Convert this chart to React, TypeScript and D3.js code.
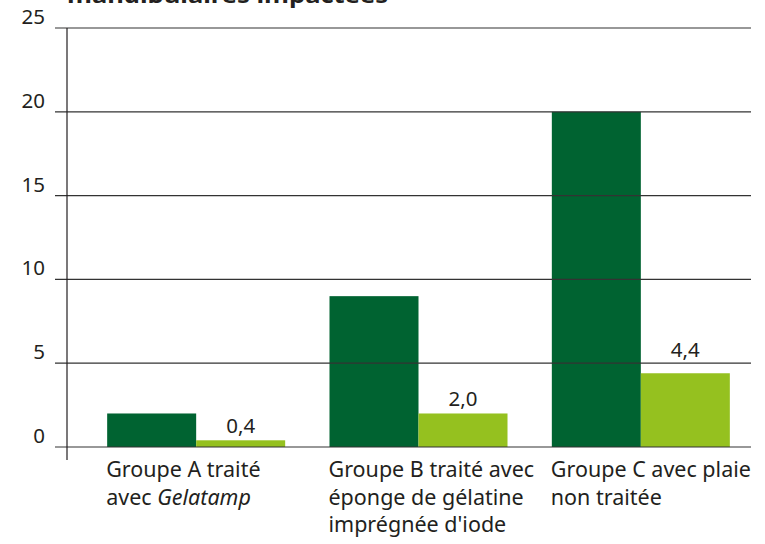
import { useEffect, useRef } from 'react'
import * as d3 from 'd3'

const groups = ['A', 'B', 'C']
const groupLabels = [
  ['Groupe A traité', 'avec |Gelatamp'],
  ['Groupe B traité avec', 'éponge de gélatine', "imprégnée d'iode"],
  ['Groupe C avec plaie', 'non traitée'],
]
const seriesKeys = ['dark', 'light']
const darkValues = [2.0, 9.0, 20.0]
const lightValues = [0.4, 2.0, 4.4]
const lightLabels = ['0,4', '2,0', '4,4']
const yTicks = [0, 5, 10, 15, 20, 25]
const titleText = 'mandibulaires impactées'

export default function App() {
  const svgRef = useRef<SVGSVGElement>(null)

  useEffect(() => {
    if (!svgRef.current) return
    const svg = d3.select(svgRef.current)
    svg.selectAll('*').remove()

    const font = '"Noto Sans", sans-serif'
    const textColor = '#231f20'
    const colors: Record<string, string> = { dark: '#006331', light: '#95c11f' }

    const axisX = 67
    const gridRight = 751

    const y = d3.scaleLinear().domain([0, 25]).range([447, 28])
    const x0 = d3.scaleBand().domain(groups).range([85, 752]).padding(0)
    const x1 = d3.scaleBand().domain(seriesKeys).range([0, x0.bandwidth()]).paddingInner(0).paddingOuter(0.249)

    // title (cut off at top)
    svg.append('text')
      .attr('x', 67)
      .attr('y', 2.5)
      .attr('font-family', font)
      .attr('font-weight', 'bold')
      .attr('font-size', 22)
      .attr('fill', textColor)
      .attr('textLength', 321)
      .attr('lengthAdjust', 'spacingAndGlyphs')
      .text(titleText)

    // bars
    const g = svg.append('g')
    groups.forEach((grp, i) => {
      const vals: Record<string, number> = { dark: darkValues[i], light: lightValues[i] }
      seriesKeys.forEach(k => {
        g.append('rect')
          .attr('x', x0(grp)! + x1(k)!)
          .attr('y', y(vals[k]))
          .attr('width', x1.bandwidth())
          .attr('height', y(0) - y(vals[k]))
          .attr('fill', colors[k])
      })
      // keep label clear of gridlines
      let base = y(lightValues[i]) - 7
      yTicks.forEach(t => {
        const gy = y(t)
        if (gy > base - 16 && gy < base + 4) base = gy - 6
      })
      g.append('text')
        .attr('x', x0(grp)! + x1('light')! + x1.bandwidth() / 2)
        .attr('y', base)
        .attr('text-anchor', 'middle')
        .attr('font-family', font)
        .attr('font-size', 20.5)
        .attr('fill', textColor)
        .text(lightLabels[i])
    })

    // gridlines + ticks (drawn over bars)
    const grid = svg.append('g')
    yTicks.forEach(t => {
      grid.append('line')
        .attr('x1', 55).attr('x2', gridRight)
        .attr('y1', y(t)).attr('y2', y(t))
        .attr('stroke', '#333')
        .attr('stroke-width', 1.2)
      grid.append('text')
        .attr('x', 45)
        .attr('y', y(t) - 4)
        .attr('text-anchor', 'end')
        .attr('font-family', font)
        .attr('font-size', 20.5)
        .attr('fill', textColor)
        .text(t)
    })
    grid.append('line')
      .attr('x1', axisX).attr('x2', axisX)
      .attr('y1', y(25)).attr('y2', 460)
      .attr('stroke', '#231f20')
      .attr('stroke-width', 1.2)

    // category labels
    groups.forEach((grp, i) => {
      const left = x0(grp)! + x1('dark')! - 1
      const tx = svg.append('text')
        .attr('x', left)
        .attr('y', 477)
        .attr('font-family', font)
        .attr('font-size', 21.5)
        .attr('fill', textColor)
      groupLabels[i].forEach((line, j) => {
        const parts = line.split('|')
        tx.append('tspan')
          .attr('x', left)
          .attr('dy', j === 0 ? 0 : 27.5)
          .text(parts[0])
        if (parts[1]) {
          tx.append('tspan').attr('font-style', 'italic').text(parts[1])
        }
      })
    })
  }, [])

  return (
    <svg
      ref={svgRef}
      width={765}
      height={544}
      style={{ display: 'block', position: 'absolute', left: 0, top: 0 }}
    />
  )
}
